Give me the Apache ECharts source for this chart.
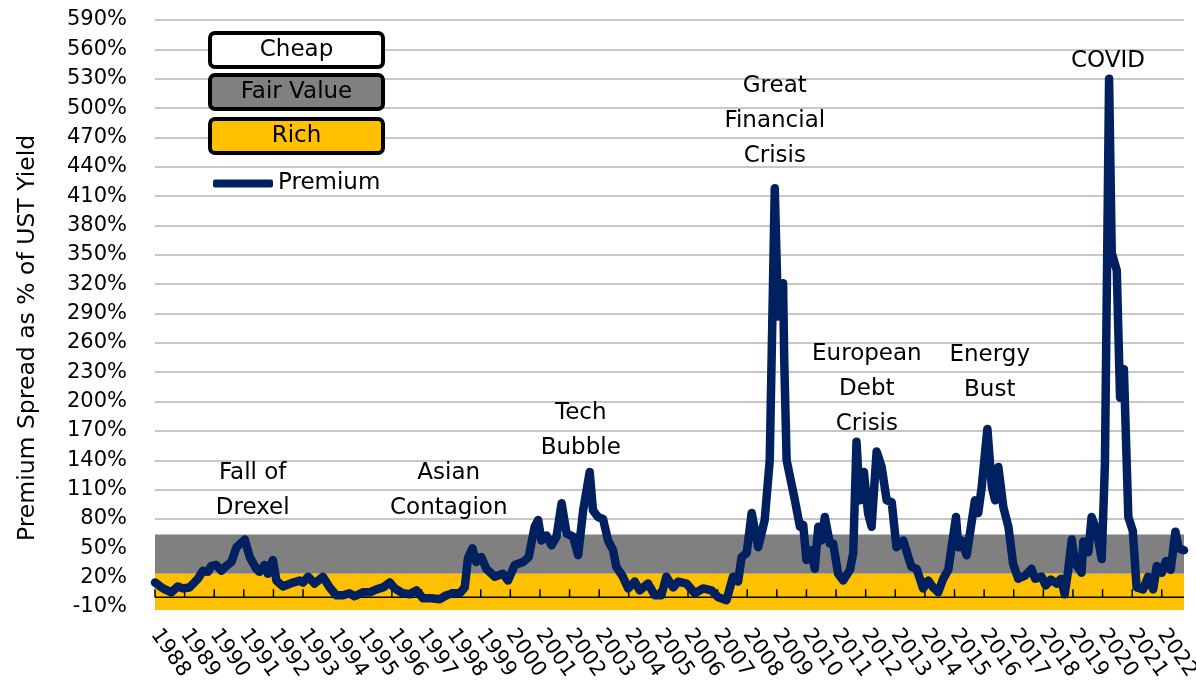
<!DOCTYPE html>
<html>
<head>
<meta charset="utf-8">
<script src="https://cdn.jsdelivr.net/npm/echarts@6/dist/echarts.min.js"></script>
<style>
  html, body { margin: 0; padding: 0; background: #fff; }
  #chart { width: 1196px; height: 684px; }
</style>
</head>
<body>
<div id="chart"></div>
<script>
// premium spread as % of UST yield (x = decimal year)
const years = [
  1988.00, 1988.27, 1988.55, 1988.77, 1988.94, 1989.17, 1989.45, 1989.62, 1989.79, 1989.90,
  1990.07, 1990.24, 1990.41, 1990.58, 1990.75, 1991.03, 1991.20, 1991.42, 1991.53, 1991.70,
  1991.81, 1991.98, 1992.10, 1992.32, 1992.66, 1992.89, 1993.00, 1993.17, 1993.39, 1993.67,
  1993.90, 1994.12, 1994.35, 1994.57, 1994.74, 1995.02, 1995.25, 1995.48, 1995.70, 1995.93,
  1996.10, 1996.37, 1996.60, 1996.83, 1997.05, 1997.33, 1997.62, 1997.84, 1998.06, 1998.29,
  1998.46, 1998.57, 1998.72, 1998.85, 1999.02, 1999.19, 1999.47, 1999.75, 1999.92, 2000.15,
  2000.43, 2000.62, 2000.82, 2000.94, 2001.05, 2001.22, 2001.39, 2001.56, 2001.73, 2001.90,
  2002.12, 2002.29, 2002.46, 2002.68, 2002.79, 2002.96, 2003.13, 2003.30, 2003.47, 2003.58,
  2003.80, 2003.98, 2004.20, 2004.37, 2004.65, 2004.88, 2005.10, 2005.27, 2005.50, 2005.67,
  2005.95, 2006.23, 2006.51, 2006.79, 2007.02, 2007.30, 2007.52, 2007.69, 2007.81, 2007.98,
  2008.15, 2008.37, 2008.59, 2008.76, 2008.93, 2009.04, 2009.21, 2009.25, 2009.33, 2009.61,
  2009.78, 2009.89, 2010.00, 2010.17, 2010.28, 2010.40, 2010.51, 2010.62, 2010.79, 2010.90,
  2011.07, 2011.24, 2011.47, 2011.58, 2011.69, 2011.80, 2011.94, 2012.08, 2012.20, 2012.37,
  2012.54, 2012.71, 2012.88, 2013.04, 2013.27, 2013.44, 2013.55, 2013.72, 2013.94, 2014.11,
  2014.28, 2014.45, 2014.62, 2014.79, 2014.90, 2015.05, 2015.13, 2015.24, 2015.41, 2015.52,
  2015.69, 2015.80, 2015.92, 2016.11, 2016.26, 2016.37, 2016.48, 2016.65, 2016.82, 2016.98,
  2017.15, 2017.38, 2017.60, 2017.72, 2017.94, 2018.08, 2018.25, 2018.45, 2018.60, 2018.72,
  2018.84, 2018.96, 2019.07, 2019.29, 2019.35, 2019.52, 2019.63, 2019.80, 2019.97, 2020.08,
  2020.22, 2020.31, 2020.48, 2020.59, 2020.72, 2020.87, 2021.02, 2021.15, 2021.37, 2021.54,
  2021.71, 2021.83, 2022.00, 2022.14, 2022.30, 2022.46, 2022.57, 2022.75
]
const premium = [
  15, 9, 5, 11, 9, 10, 19, 27, 26, 32,
  33, 27, 32, 36, 51, 59, 41, 29, 26, 33,
  24, 38, 17, 11, 15, 17, 15, 21, 14, 21,
  10, 2, 2, 4, 1, 5, 5, 8, 10, 15,
  9, 4, 3, 7, -1, -1, -2, 2, 4, 4,
  10, 40, 50, 36, 41, 29, 21, 24, 17, 33,
  36, 41, 72, 79, 58, 63, 53, 62, 96, 65,
  62, 43, 89, 128, 89, 82, 80, 58, 48, 31,
  21, 9, 16, 7, 14, 2, 2, 21, 10, 16,
  14, 4, 9, 7, 0, -3, 21, 16, 41, 45,
  86, 51, 79, 140, 418, 287, 321, 242, 140, 99,
  72, 74, 38, 48, 29, 72, 58, 82, 55, 55,
  24, 17, 28, 45, 159, 99, 128, 86, 72, 149,
  133, 99, 97, 51, 58, 41, 31, 29, 9, 17,
  10, 5, 19, 28, 51, 82, 51, 58, 43, 65,
  99, 86, 113, 172, 113, 99, 133, 92, 72, 34,
  19, 22, 29, 19, 21, 12, 18, 14, 19, 3,
  28, 59, 35, 25, 57, 46, 82, 68, 39, 136,
  530, 352, 334, 204, 233, 82, 68, 10, 8, 21,
  8, 32, 25, 37, 28, 67, 50, 48
]

const yTicks = [-10, 20, 50, 80, 110, 140, 170, 200, 230, 260, 290, 320, 350, 380, 410, 440, 470, 500, 530, 560, 590]
const xTicks = [
  1988, 1989, 1990, 1991, 1992, 1993, 1994, 1995, 1996, 1997, 1998, 1999,
  2000, 2001, 2002, 2003, 2004, 2005, 2006, 2007, 2008, 2009, 2010, 2011,
  2012, 2013, 2014, 2015, 2016, 2017, 2018, 2019, 2020, 2021, 2022
]
const xMin = 1988
const xMax = 2022.75

// valuation bands (in % of UST yield)
const fairValueBand = [24, 64]
const richBand = [-13, 24]

// event annotations: centre of each text block
const eventNames = ['Fall of\nDrexel', 'Asian\nContagion', 'Tech\nBubble', 'Great\nFinancial\nCrisis', 'European\nDebt\nCrisis', 'Energy\nBust', 'COVID']
const eventYears = [1991.30, 1997.92, 2002.38, 2008.93, 2012.04, 2016.19, 2020.18]
const eventLevels = [109, 109, 170, 487, 213, 230, 548]

const FONT = 'DejaVu Sans'
const NAVY = '#002060'
const GRAY = '#808080'
const GOLD = '#FFC000'

function boxStyle(bg) {
  return {
    width: 169, height: 30, lineHeight: 30, align: 'center',
    backgroundColor: bg, borderColor: '#000', borderWidth: 4, borderRadius: 3,
    fontSize: 23, fontFamily: FONT, color: '#000'
  }
}

function boxLegend(name, key, bg, top) {
  return {
    selectedMode: false, left: 207, top: top, padding: 0,
    itemWidth: 0, itemHeight: 10, icon: 'none',
    data: [name],
    formatter: n => `{${key}|${n}}`,
    textStyle: { rich: { [key]: boxStyle(bg) } }
  }
}

// a horizontal band across the whole plot, from value(0) to value(1)
function bandSeries(name, band, color) {
  return {
    name: name, type: 'custom', z: 1, silent: true, clip: false,
    itemStyle: { color: color },
    data: [band],
    encode: { y: [0, 1] },
    renderItem: (params, api) => {
      const a = api.coord([xMin, api.value(1)])
      const b = api.coord([xMax, api.value(0)])
      return {
        type: 'rect',
        shape: { x: a[0], y: a[1], width: b[0] - a[0], height: b[1] - a[1] },
        style: { fill: color }
      }
    }
  }
}

const chart = echarts.init(document.getElementById('chart'))

chart.setOption({
  animation: false,
  grid: { left: 155, right: 12, top: 20, bottom: 77, outerBoundsMode: 'none', containLabel: false },
  graphic: [{
    type: 'text', x: 28, y: 338, rotation: Math.PI / 2,
    style: {
      text: 'Premium Spread as % of UST Yield', fontSize: 23.5, fontFamily: FONT,
      fill: '#000', align: 'center', verticalAlign: 'middle'
    }
  }],
  legend: [
    boxLegend('Cheap', 'cheap', '#fff', 31),
    boxLegend('Fair Value', 'fair', GRAY, 73),
    boxLegend('Rich', 'rich', GOLD, 117),
    {
      selectedMode: false, left: 213, top: 172, padding: 0,
      itemWidth: 60, itemHeight: 8, icon: 'roundRect',
      data: ['Premium'],
      textStyle: { fontSize: 23, fontFamily: FONT, color: '#000' }
    }
  ],
  xAxis: {
    type: 'value', min: xMin, max: xMax,
    splitLine: { show: false },
    axisLine: { show: false, onZero: false },
    axisTick: { show: false, customValues: xTicks },
    axisLabel: {
      customValues: xTicks, rotate: -55, margin: 24,
      fontSize: 21, fontFamily: FONT, color: '#000',
      formatter: v => String(Math.round(v))
    }
  },
  yAxis: {
    type: 'value', min: -10, max: 590,
    axisLine: { show: false },
    axisTick: { show: false, customValues: yTicks },
    splitLine: { lineStyle: { color: '#b4b4b4', width: 1.5 } },
    axisLabel: {
      customValues: yTicks, margin: 28,
      fontSize: 21, fontFamily: FONT, color: '#000',
      formatter: v => v + '%'
    }
  },
  series: [
    bandSeries('Fair Value', fairValueBand, GRAY),
    bandSeries('Rich', richBand, GOLD),
    {
      // 'Cheap' has no fill of its own (white); this series carries the
      // 0% axis line and its upward year ticks, drawn over the bands
      name: 'Cheap', type: 'custom', z: 3, silent: true, clip: false,
      itemStyle: { color: '#000' },
      data: xTicks.map(x => [x, 0]),
      encode: { x: 0, y: 1 },
      renderItem: (params, api) => {
        const p = api.coord([api.value(0), api.value(1)])
        const children = [{
          type: 'rect',
          shape: { x: p[0] - 0.75, y: p[1] - 8, width: 1.5, height: 8 },
          style: { fill: '#000', stroke: null }
        }]
        if (params.dataIndex === 0) {
          const end = api.coord([xMax, 0])
          children.push({
            type: 'rect',
            shape: { x: p[0], y: p[1] - 0.75, width: end[0] - p[0], height: 1.5 },
            style: { fill: '#000', stroke: null }
          })
        }
        return { type: 'group', children: children }
      }
    },
    {
      name: 'Premium', type: 'line', z: 7,
      data: years.map((y, i) => [y, premium[i]]),
      showSymbol: false, symbol: 'none',
      itemStyle: { color: NAVY },
      lineStyle: { color: NAVY, width: 8.5, cap: 'round', join: 'round' },
      markPoint: {
        symbol: 'circle', symbolSize: 1,
        itemStyle: { color: 'transparent' },
        label: {
          show: true, position: 'inside', color: '#000',
          fontSize: 23, lineHeight: 35, fontFamily: FONT,
          formatter: p => p.name
        },
        data: eventNames.map((n, i) => ({ name: n, coord: [eventYears[i], eventLevels[i]] }))
      }
    }
  ]
})
</script>
</body>
</html>
